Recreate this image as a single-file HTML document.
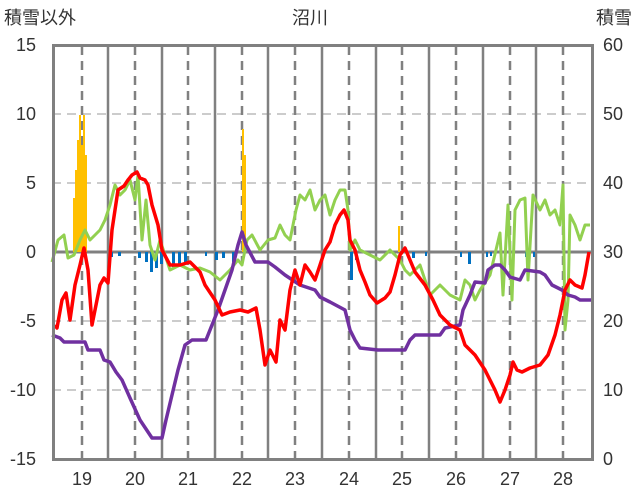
<!DOCTYPE html><html><head><meta charset="utf-8"><style>body{margin:0;background:#fff}svg{display:block}text{font-family:"Liberation Sans","Noto Sans CJK JP",sans-serif;font-size:18px;fill:#333}</style></head><body>
<svg width="636" height="501" viewBox="0 0 636 501">
<g stroke="#ccc" stroke-width="2" stroke-dasharray="9,6">
<line x1="52" y1="114" x2="593" y2="114"/><line x1="52" y1="183" x2="593" y2="183"/><line x1="52" y1="321" x2="593" y2="321"/><line x1="52" y1="390" x2="593" y2="390"/></g>
<g stroke="#808080" stroke-width="2.5" stroke-dasharray="9,6">
<line x1="82" y1="46" x2="82" y2="459"/><line x1="135" y1="46" x2="135" y2="459"/><line x1="188" y1="46" x2="188" y2="459"/><line x1="242" y1="46" x2="242" y2="459"/><line x1="295" y1="46" x2="295" y2="459"/><line x1="349" y1="46" x2="349" y2="459"/><line x1="402" y1="46" x2="402" y2="459"/><line x1="456" y1="46" x2="456" y2="459"/><line x1="510" y1="46" x2="510" y2="459"/><line x1="563" y1="46" x2="563" y2="459"/></g>
<g stroke="#808080" stroke-width="2.5">
<line x1="108" y1="46" x2="108" y2="459"/><line x1="162" y1="46" x2="162" y2="459"/><line x1="215" y1="46" x2="215" y2="459"/><line x1="268" y1="46" x2="268" y2="459"/><line x1="322" y1="46" x2="322" y2="459"/><line x1="376" y1="46" x2="376" y2="459"/><line x1="429" y1="46" x2="429" y2="459"/><line x1="483" y1="46" x2="483" y2="459"/><line x1="536" y1="46" x2="536" y2="459"/>
<line x1="52" y1="252" x2="593" y2="252" stroke-width="3"/></g>
<g fill="#ffc000"><rect x="73" y="198" width="2" height="54"/><rect x="75" y="170" width="2" height="82"/><rect x="77" y="140" width="2" height="112"/><rect x="79" y="115" width="2" height="137"/><rect x="81" y="145" width="2" height="107"/><rect x="83" y="115" width="2" height="137"/><rect x="85" y="155" width="2" height="97"/><rect x="242" y="129" width="2" height="123"/><rect x="244" y="155" width="2" height="97"/><rect x="398" y="226" width="2" height="26"/></g>
<g fill="#0070c0"><rect x="110" y="252" width="3" height="5"/><rect x="118" y="252" width="3" height="4"/><rect x="138" y="252" width="3" height="6"/><rect x="145" y="252" width="3" height="10"/><rect x="150" y="252" width="3" height="20"/><rect x="155" y="252" width="3" height="16"/><rect x="160" y="252" width="3" height="12"/><rect x="172" y="252" width="3" height="15"/><rect x="178" y="252" width="3" height="14"/><rect x="184" y="252" width="3" height="12"/><rect x="205" y="252" width="2" height="4"/><rect x="215" y="252" width="3" height="8"/><rect x="222" y="252" width="3" height="6"/><rect x="232" y="252" width="3" height="10"/><rect x="350" y="252" width="3" height="28"/><rect x="355" y="252" width="2" height="8"/><rect x="412" y="252" width="3" height="6"/><rect x="425" y="252" width="2" height="4"/><rect x="460" y="252" width="2" height="5"/><rect x="468" y="252" width="3" height="12"/><rect x="486" y="252" width="2" height="5"/><rect x="490" y="252" width="2" height="4"/><rect x="525" y="252" width="2" height="5"/><rect x="533" y="252" width="2" height="5"/></g>
<polyline fill="none" stroke="#92d050" stroke-width="3" stroke-linejoin="round" points="52,262 58,240 64,235 68,258 74,255 80,240 85,230 90,240 95,235 100,230 105,220 110,205 115,185 120,195 125,190 130,180 135,200 138,175 142,240 146,200 150,245 155,260 160,240 165,255 170,270 180,265 190,270 200,268 210,272 220,280 230,270 238,260 242,265 247,240 252,235 260,250 268,240 275,238 280,225 285,235 290,240 296,210 300,195 305,200 310,190 315,210 320,200 325,195 330,215 335,200 340,190 345,190 348,210 350,250 355,240 360,250 370,255 380,260 390,250 395,255 400,260 405,270 410,275 420,265 430,295 440,285 450,295 460,300 465,280 470,285 475,300 480,290 490,275 500,233 503,295 508,205 512,300 515,210 520,200 525,198 528,280 533,195 540,210 545,200 550,215 555,210 560,225 563,185 565,330 568,300 570,215 575,225 580,240 585,225 590,225"/>
<polyline fill="none" stroke="#7030a0" stroke-width="3.5" stroke-linejoin="round" points="52,335 60,338 64,342 85,342 88,350 100,350 104,360 110,362 116,372 122,380 130,398 140,420 148,432 152,438 162,438 166,420 172,395 178,370 185,345 192,340 206,340 212,325 218,310 225,290 232,270 238,245 242,232 246,245 255,262 268,262 275,267 285,275 300,285 315,290 320,297 330,302 345,310 350,330 355,340 360,348 378,350 405,350 410,340 415,335 440,335 445,328 460,325 463,310 470,295 475,282 485,283 488,270 495,265 500,265 505,270 510,277 520,280 525,270 540,272 545,275 552,285 562,290 568,295 575,297 580,300 591,300"/>
<polyline fill="none" stroke="#ff0000" stroke-width="3.5" stroke-linejoin="round" points="55,325 57,328 62,300 66,293 70,320 75,285 80,265 84,248 88,270 92,325 97,300 100,285 104,278 108,283 112,230 118,190 124,186 128,180 132,175 137,172 140,178 145,180 148,185 152,205 158,225 162,250 170,265 180,265 190,262 200,272 205,285 215,300 222,315 230,312 240,310 248,312 256,308 260,330 265,365 270,350 276,362 280,320 285,330 290,290 295,270 300,285 305,265 310,272 315,280 320,265 325,250 330,242 335,225 340,215 344,210 348,220 350,240 355,250 360,270 365,282 370,295 377,303 385,298 390,292 395,275 400,255 405,248 410,260 415,272 425,285 433,300 440,315 450,325 460,330 465,345 475,355 485,370 495,390 500,402 505,390 510,375 513,362 517,370 522,372 530,368 540,365 548,355 555,335 560,315 565,290 570,280 575,285 582,288 585,275 589,252"/>
<rect x="53.5" y="45.5" width="539" height="414" fill="none" stroke="#808080" stroke-width="3"/>
<text x="310" y="24" text-anchor="middle">沼川</text>
<text x="4" y="24">積雪以外</text>
<text x="632" y="24" text-anchor="end">積雪</text>
<g text-anchor="end"><text x="36" y="51">15</text><text x="36" y="120">10</text><text x="36" y="189">5</text><text x="36" y="258">0</text><text x="36" y="327">-5</text><text x="36" y="396">-10</text><text x="36" y="465">-15</text></g>
<g><text x="603" y="51">60</text><text x="603" y="120">50</text><text x="603" y="189">40</text><text x="603" y="258">30</text><text x="603" y="327">20</text><text x="603" y="396">10</text><text x="603" y="465">0</text></g>
<g text-anchor="middle"><text x="82" y="485">19</text><text x="135" y="485">20</text><text x="188" y="485">21</text><text x="242" y="485">22</text><text x="295" y="485">23</text><text x="349" y="485">24</text><text x="402" y="485">25</text><text x="456" y="485">26</text><text x="510" y="485">27</text><text x="563" y="485">28</text></g>
</svg></body></html>
